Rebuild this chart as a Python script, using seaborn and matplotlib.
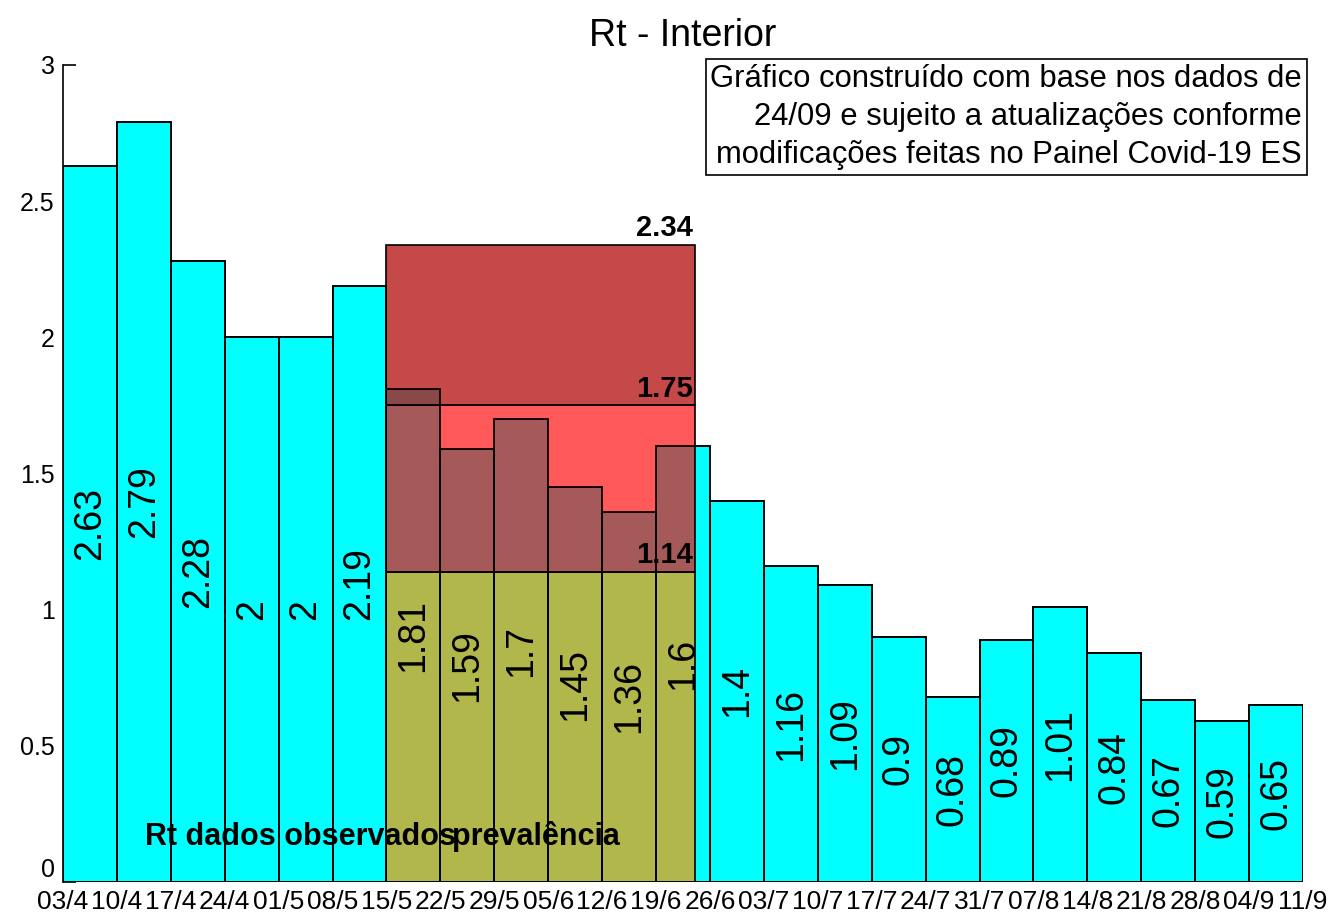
import matplotlib
matplotlib.use("Agg")
import matplotlib.pyplot as plt
from matplotlib.patches import Rectangle
import seaborn as sns
import pandas as pd

# week boundaries (24 labels, one per bar edge) and Rt per week (23 bars)
edge_labels = ["03/4", "10/4", "17/4", "24/4", "01/5", "08/5", "15/5", "22/5",
               "29/5", "05/6", "12/6", "19/6", "26/6", "03/7", "10/7", "17/7",
               "24/7", "31/7", "07/8", "14/8", "21/8", "28/8", "04/9", "11/9"]
rt_values = [2.63, 2.79, 2.28, 2, 2, 2.19, 1.81, 1.59, 1.7, 1.45, 1.36, 1.6,
             1.4, 1.16, 1.09, 0.9, 0.68, 0.89, 1.01, 0.84, 0.67, 0.59, 0.65]

# prevalence band: lower / mid / upper Rt and its extent in weeks from 03/4
band_levels = [1.14, 1.75, 2.34]
band_start = 6
band_end = 11.72

note = ("Gráfico construído com base nos dados de\n"
        "24/09 e sujeito a atualizações conforme\n"
        "modificações feitas no Painel Covid-19 ES")

df = pd.DataFrame({"semana": edge_labels[:-1], "rt": rt_values})

sns.set_style("white")
plt.rcParams["font.family"] = ["Liberation Sans", "DejaVu Sans"]
plt.rcParams["text.color"] = "black"
plt.rcParams["xtick.color"] = "black"
plt.rcParams["ytick.color"] = "black"

fig = plt.figure(figsize=(13.3, 9.15), dpi=100)
ax = fig.add_axes([63 / 1330, 1 - 882 / 915, 1240 / 1330, (882 - 65) / 915])

# filled bars
sns.barplot(data=df, x="semana", y="rt", color="#00ffff", saturation=1,
            width=1, edgecolor="black", linewidth=1.2, errorbar=None,
            zorder=2, ax=ax)

# prevalence band drawn over the bars
x0 = band_start - 0.5
w = band_end - band_start
fills = [(1.0, 0.6, 0.0, 0.7), (1.0, 0.0, 0.0, 0.65), (0.71, 0.07, 0.07, 0.77)]
lows = [0] + band_levels[:-1]
for lo, hi, fc in zip(lows, band_levels, fills):
    ax.add_patch(Rectangle((x0, lo), w, hi - lo, facecolor=fc,
                           edgecolor="black", linewidth=1.2, zorder=3))

for lvl in band_levels:
    ax.text(x0 + w - 0.03, lvl + 0.01, f"{lvl:.2f}", ha="right", va="bottom",
            fontsize=21, fontweight="bold", zorder=4)

# value labels in the middle of each bar
for i, v in enumerate(rt_values):
    ax.text(i, v / 2, f"{v:g}", rotation=90, ha="center", va="center",
            fontsize=27, zorder=4)

ax.text(1.02, 0.135, "Rt dados observados", fontsize=22, fontweight="bold",
        va="baseline", zorder=4)
ax.text(6.72, 0.135, "prevalência", fontsize=22, fontweight="bold",
        va="baseline", zorder=4)

# bar outlines again on top of everything
sns.barplot(data=df, x="semana", y="rt", fill=False, color="black",
            width=1, linewidth=1.2, errorbar=None, zorder=5, ax=ax)

ax.set_xlim(-0.5, len(rt_values) - 0.5)
ax.set_ylim(0, 3)
ax.set_xticks([i - 0.5 for i in range(len(edge_labels))])
ax.set_xticklabels(edge_labels, fontsize=19)
ax.set_yticks([0, 0.5, 1, 1.5, 2, 2.5, 3])
ax.set_yticklabels(["0", "0.5", "1", "1.5", "2", "2.5", "3"], fontsize=18)
ax.get_yticklabels()[0].set_verticalalignment("bottom")
ax.tick_params(axis="x", length=0, pad=5.5)
ax.tick_params(axis="y", direction="in", length=9, width=1.2, pad=6,
               left=True)
ax.set_xlabel("")
ax.set_ylabel("")
ax.set_axisbelow(True)
for s in ["top", "right", "bottom"]:
    ax.spines[s].set_visible(False)
ax.spines["left"].set_color("black")
ax.spines["left"].set_linewidth(1.2)

ax.set_title("Rt - Interior", fontsize=27, pad=14, color="black")

fig.text(1302 / 1330, 1 - 64 / 915, note, ha="right", va="top", fontsize=22.3,
         linespacing=1.35, multialignment="right",
         bbox=dict(boxstyle="square,pad=0.15", facecolor="white",
                   edgecolor="black", linewidth=1.2))

fig.savefig("out.png", dpi=100)
